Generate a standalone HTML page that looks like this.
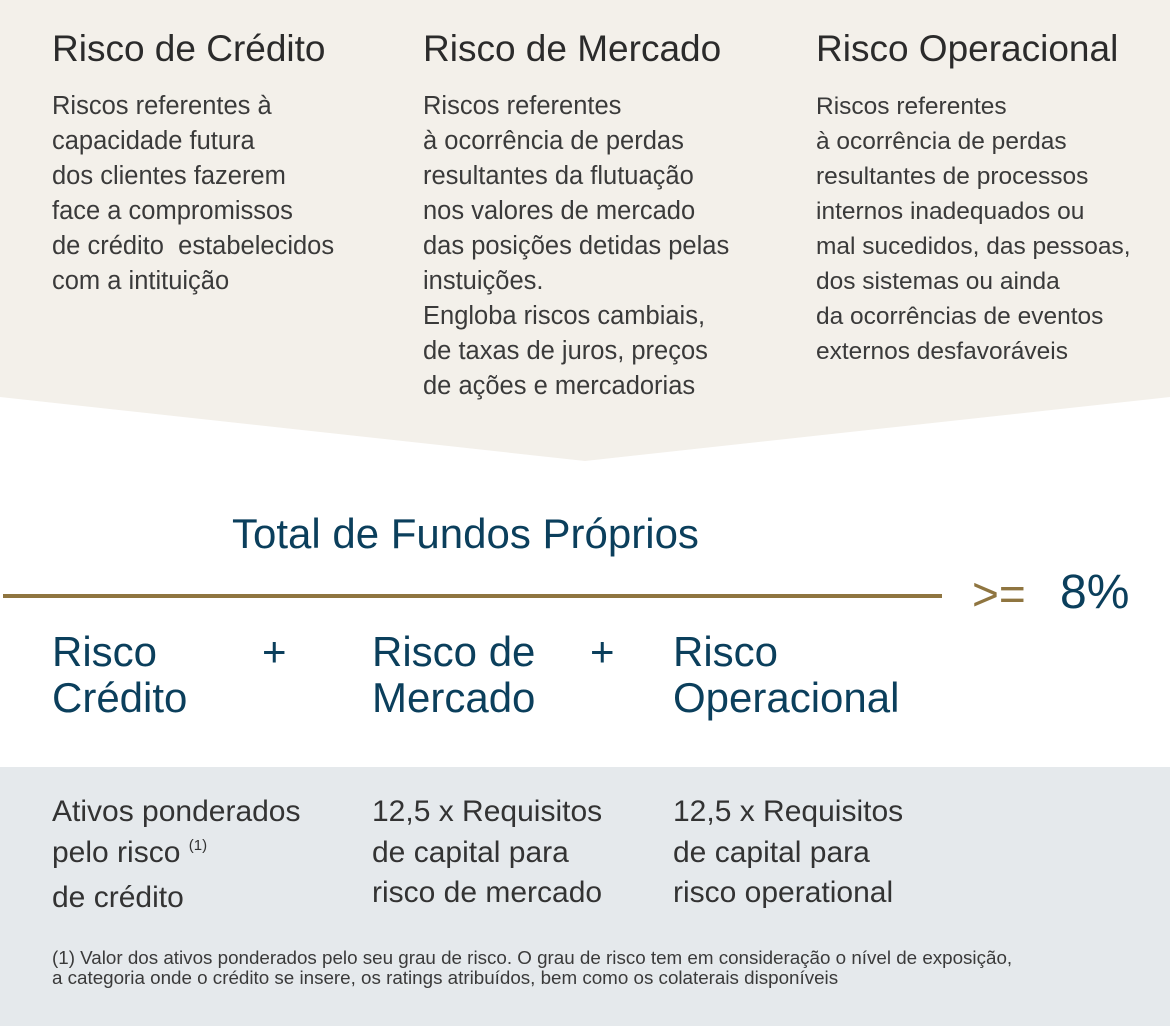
<!DOCTYPE html>
<html><head><meta charset="utf-8"><style>
body{margin:0;width:1170px;height:1026px;position:relative;background:#fff;overflow:hidden;font-family:"Liberation Sans",sans-serif}
.a{position:absolute;white-space:nowrap}
.h{font-size:37px;color:#2b2b2b;line-height:40px}
.b{font-size:25.5px;color:#3a3a3a;line-height:35px}
.t{color:#0b3f5c}
.g{font-size:30px;color:#333;line-height:40.5px}
.sp{font-size:15px;position:relative;top:-12px}
</style></head><body>
<svg class="a" style="left:0;top:0" width="1170" height="1026">
<polygon points="0,0 1170,0 1170,397 585,461 0,397" fill="#f3f0ea"/>
<rect x="0" y="767" width="1170" height="259" fill="#e5e9ec"/>
<rect x="3" y="594" width="939" height="4" fill="#8f7540"/>
</svg>
<div class="a h" style="left:52px;top:29px">Risco de Crédito</div>
<div class="a h" style="left:423px;top:29px">Risco de Mercado</div>
<div class="a h" style="left:816px;top:29px">Risco Operacional</div>
<div class="a b" style="left:52px;top:89px">Riscos referentes à<br>capacidade futura<br>dos clientes fazerem<br>face a compromissos<br>de crédito&nbsp; estabelecidos<br>com a intituição</div>
<div class="a b" style="left:423px;top:89px">Riscos referentes<br>à ocorrência de perdas<br>resultantes da flutuação<br>nos valores de mercado<br>das posições detidas pelas<br>instuições.<br>Engloba riscos cambiais,<br>de taxas de juros, preços<br>de ações e mercadorias</div>
<div class="a b" style="left:816px;top:89px;font-size:24.5px">Riscos referentes<br>à ocorrência de perdas<br>resultantes de processos<br>internos inadequados ou<br>mal sucedidos, das pessoas,<br>dos sistemas ou ainda<br>da ocorrências de eventos<br>externos desfavoráveis</div>
<div class="a t" style="left:232px;top:509px;font-size:42px;line-height:50px">Total de Fundos Próprios</div>
<div class="a" style="left:972px;top:564px;font-size:46px;line-height:60px;color:#8f7540">&gt;=</div>
<div class="a t" style="left:1060px;top:563px;font-size:48px;line-height:60px">8%</div>
<div class="a t" style="left:52px;top:629px;font-size:42px;line-height:46px">Risco<br>Crédito</div>
<div class="a t" style="left:262px;top:629px;font-size:42px;line-height:46px">+</div>
<div class="a t" style="left:372px;top:629px;font-size:42px;line-height:46px">Risco de<br>Mercado</div>
<div class="a t" style="left:590px;top:629px;font-size:42px;line-height:46px">+</div>
<div class="a t" style="left:673px;top:629px;font-size:42px;line-height:46px">Risco<br>Operacional</div>
<div class="a g" style="left:52px;top:792px">Ativos ponderados<br>pelo risco <span class="sp">(1)</span><br>de crédito</div>
<div class="a g" style="left:372px;top:792px">12,5 x Requisitos<br>de capital para<br>risco de mercado</div>
<div class="a g" style="left:673px;top:792px">12,5 x Requisitos<br>de capital para<br>risco operational</div>
<div class="a" style="left:52px;top:948px;font-size:18.8px;line-height:20px;color:#3a3a3a">(1) Valor dos ativos ponderados pelo seu grau de risco. O grau de risco tem em consideração o nível de exposição,<br>a categoria onde o crédito se insere, os ratings atribuídos, bem como os colaterais disponíveis</div>
</body></html>
